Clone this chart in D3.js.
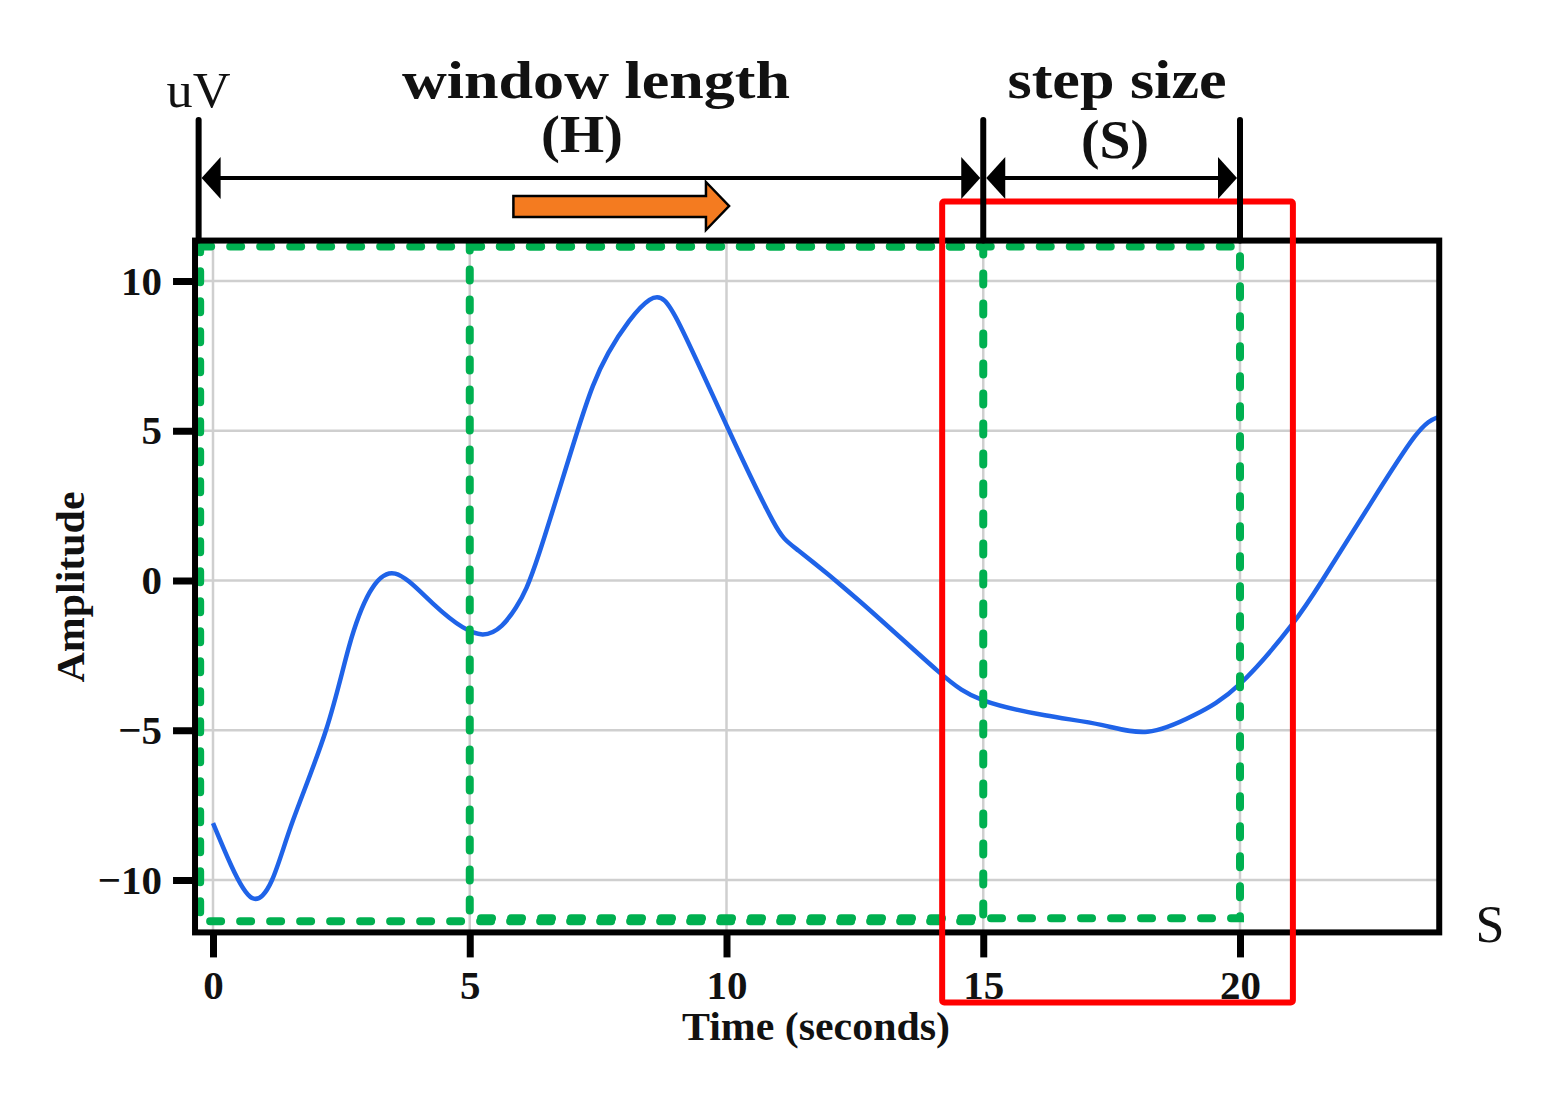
<!DOCTYPE html>
<html>
<head>
<meta charset="utf-8">
<script src="https://cdn.jsdelivr.net/npm/d3@7"></script>
<style>
    body { margin: 0; background: #fff; }
    text { font-family: "Liberation Serif", "Times New Roman", serif; fill: #111; }
</style>
</head>
<body>
<div id="chart"></div>
<script>
// signal (seconds, uV)
const timeValues = [0, 0.35, 0.76, 1.15, 1.56, 2.2, 2.65, 3.05, 3.55, 4.3, 5.25, 5.9, 6.35, 7.1, 7.7, 8.5, 9.1, 10.05, 10.9, 11.4, 12.6, 14.1, 15.0, 16.2, 17.3, 18.2, 19.1, 20.0, 21.0, 21.6, 22.5, 23.4, 23.85];
const amplitudeValues = [-8.1, -9.5, -10.6, -10.0, -8.0, -5.0, -2.2, -0.4, 0.23, -0.8, -1.8, -0.9, 0.9, 5.0, 7.6, 9.37, 8.5, 5.0, 2.0, 1.0, -0.7, -3.0, -4.0, -4.5, -4.82, -5.05, -4.5, -3.45, -1.5, 0, 2.45, 4.8, 5.45];

const xTickValues = [0, 5, 10, 15, 20];
const yTickValues = [-10, -5, 0, 5, 10];

// sliding windows (green) and the annotation markers above the plot
const windowStarts = [-0.25, 5];
const windowEnds = [15, 20];
const windowTops = [11.15, 11.15];
const windowBottoms = [-11.38, -11.28];
const markerTimes = [-0.28, 15, 20];
const stepHighlight = [14.2, 21.03];
const moveArrow = [5.85, 9.6, 10.05];

const width = 1566, height = 1097;

const svg = d3.select('#chart').append('svg')
    .attr('width', width)
    .attr('height', height);

const x = d3.scaleLinear().domain([0, 20]).range([213, 1240]);
const y = d3.scaleLinear().domain([-10, 10]).range([880, 281]);

const frame = { left: x(-0.35), right: x(23.88), top: y(11.35), bottom: y(-11.75) };

// grid
svg.append('g').selectAll('line')
    .data(xTickValues)
    .join('line')
    .attr('x1', d => x(d)).attr('x2', d => x(d))
    .attr('y1', frame.top).attr('y2', frame.bottom)
    .attr('stroke', '#cfcfcf').attr('stroke-width', 2.5);

svg.append('g').selectAll('line')
    .data(yTickValues)
    .join('line')
    .attr('x1', frame.left).attr('x2', frame.right)
    .attr('y1', d => y(d)).attr('y2', d => y(d))
    .attr('stroke', '#cfcfcf').attr('stroke-width', 2.5);

// signal
const line = d3.line()
    .x((d, i) => x(timeValues[i]))
    .y(d => y(d))
    .curve(d3.curveNatural);

svg.append('path')
    .attr('d', line(amplitudeValues))
    .attr('fill', 'none')
    .attr('stroke', '#1f63e8')
    .attr('stroke-width', 4.5);

// windows
svg.append('g').selectAll('rect')
    .data(windowStarts)
    .join('rect')
    .attr('x', d => x(d))
    .attr('y', (d, i) => y(windowTops[i]))
    .attr('width', (d, i) => x(windowEnds[i]) - x(d))
    .attr('height', (d, i) => y(windowBottoms[i]) - y(windowTops[i]))
    .attr('fill', 'none')
    .attr('stroke', '#00b050')
    .attr('stroke-width', 8)
    .attr('stroke-linecap', 'round')
    .attr('stroke-dasharray', '11 19');

// frame
svg.append('rect')
    .attr('x', frame.left).attr('y', frame.top)
    .attr('width', frame.right - frame.left)
    .attr('height', frame.bottom - frame.top)
    .attr('fill', 'none')
    .attr('stroke', '#000')
    .attr('stroke-width', 6);

// axes
const styleAxis = g => {
    g.select('.domain').remove();
    g.selectAll('.tick line').attr('stroke', '#000').attr('stroke-width', 7);
    g.selectAll('.tick text').attr('font-size', 41).attr('font-weight', 'bold');
};

svg.append('g')
    .attr('transform', `translate(${frame.left},0)`)
    .call(d3.axisLeft(y).tickValues(yTickValues).tickSize(22).tickPadding(11))
    .call(styleAxis);

svg.append('g')
    .attr('transform', `translate(0,${frame.bottom})`)
    .call(d3.axisBottom(x).tickValues(xTickValues).tickSize(25).tickPadding(12))
    .call(styleAxis);

svg.append('text')
    .attr('x', 816).attr('y', 1040)
    .attr('text-anchor', 'middle')
    .attr('font-size', 40).attr('font-weight', 'bold')
    .attr('textLength', 268).attr('lengthAdjust', 'spacingAndGlyphs')
    .text('Time (seconds)');

svg.append('text')
    .attr('transform', 'translate(84,587) rotate(-90)')
    .attr('text-anchor', 'middle')
    .attr('font-size', 40).attr('font-weight', 'bold')
    .attr('textLength', 191).attr('lengthAdjust', 'spacingAndGlyphs')
    .text('Amplitude');

svg.append('text')
    .attr('x', 1490).attr('y', 942)
    .attr('text-anchor', 'middle')
    .attr('font-size', 52)
    .text('S');

// step highlight
svg.append('rect')
    .attr('x', x(stepHighlight[0]))
    .attr('y', frame.top - 39)
    .attr('width', x(stepHighlight[1]) - x(stepHighlight[0]))
    .attr('height', frame.bottom - frame.top + 109)
    .attr('rx', 2)
    .attr('fill', 'none')
    .attr('stroke', '#ff0000')
    .attr('stroke-width', 6);

// annotation bars and arrows
const arrowY = 178;

svg.append('g').selectAll('line')
    .data(markerTimes)
    .join('line')
    .attr('x1', d => x(d)).attr('x2', d => x(d))
    .attr('y1', 120).attr('y2', frame.top)
    .attr('stroke', '#000').attr('stroke-width', 6)
    .attr('stroke-linecap', 'round');

const head = (tip, dir) => {
    const back = tip + dir * 19;
    return `M${tip},${arrowY}L${back},${arrowY - 21}L${back},${arrowY + 21}Z`;
};

d3.pairs(markerTimes).forEach(([a, b]) => {
    const x0 = x(a) + 3, x1 = x(b) - 3;
    svg.append('line')
        .attr('x1', x0 + 10).attr('x2', x1 - 10)
        .attr('y1', arrowY).attr('y2', arrowY)
        .attr('stroke', '#000').attr('stroke-width', 4);
    svg.append('path').attr('d', head(x0, 1)).attr('fill', '#000');
    svg.append('path').attr('d', head(x1, -1)).attr('fill', '#000');
});

// moving-window arrow
const ax0 = x(moveArrow[0]), ax1 = x(moveArrow[1]), ax2 = x(moveArrow[2]);
svg.append('path')
    .attr('d', `M${ax0},196L${ax1},196L${ax1},182L${ax2},206L${ax1},230L${ax1},217L${ax0},217Z`)
    .attr('fill', '#f47b20')
    .attr('stroke', '#000')
    .attr('stroke-width', 2.5)
    .attr('stroke-linejoin', 'miter');

// header texts
const header = (txt, cx, cy, size, weight, len) => {
    const t = svg.append('text')
        .attr('x', cx).attr('y', cy)
        .attr('text-anchor', 'middle')
        .attr('font-size', size)
        .attr('font-weight', weight)
        .text(txt);
    if (len) t.attr('textLength', len).attr('lengthAdjust', 'spacingAndGlyphs');
};

header('uV', x(markerTimes[0]), 107, 50, 'normal', 64);
header('window length', 596, 98, 52, 'bold', 388);
header('(H)', 582, 152, 52, 'bold', 82);
header('step size', 1117, 98, 54, 'bold', 219);
header('(S)', 1115, 158, 54, 'bold', 68);
</script>
</body>
</html>
